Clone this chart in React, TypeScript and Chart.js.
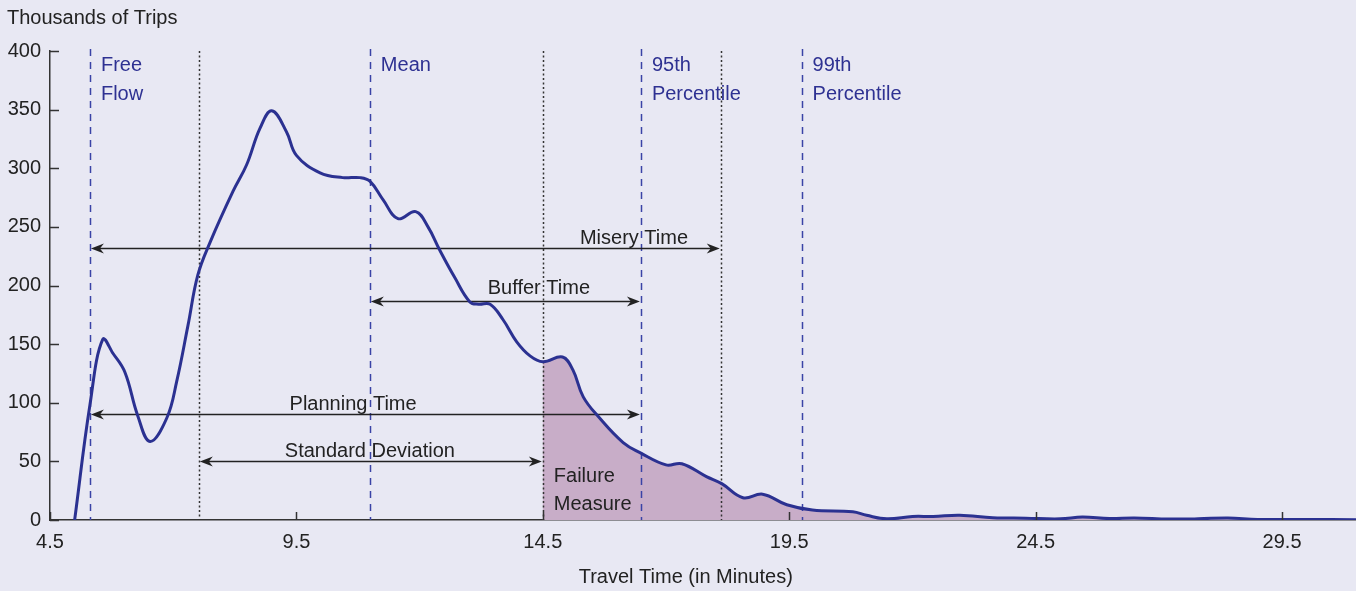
import React, { useEffect, useRef } from "react";
import { Chart, registerables } from "chart.js";

Chart.register(...registerables);

// ---- Data ----
const travelTime = [
  5.0, 5.31, 5.57, 5.78, 6.02, 6.28, 6.53, 6.87, 7.07, 7.3, 7.5, 7.75, 8.21, 8.49, 8.76, 9.0,
  9.3, 9.5, 9.98, 10.44, 10.79, 10.99, 11.26, 11.56, 11.92, 12.17, 12.41, 12.71, 13.02, 13.2,
  13.43, 13.69, 13.97, 14.24, 14.5, 14.9, 15.11, 15.32, 15.63, 16.13, 16.49, 17.0, 17.32,
  17.82, 18.13, 18.56, 18.96, 19.45, 19.97, 20.79, 21.07, 21.48, 22.0, 22.42, 22.96, 23.63,
  24.3, 25.0, 25.45, 26.0, 26.5, 27.2, 27.8, 28.4, 29.0, 30.0, 31.0,
];
const trips = [
  0, 98, 154, 142, 126, 89, 67, 87, 118, 166, 209, 237, 280, 303, 334, 349,
  331, 311, 296, 292, 292, 289, 273, 257, 263, 250, 230, 207, 186, 184,
  184, 171, 152, 140, 135, 139, 128, 105, 88, 66, 57, 47, 48,
  37, 31, 19, 22, 13, 8.5, 7, 4, 1, 3, 3, 4, 2,
  1.5, 1, 2.5, 1.2, 1.8, 0.8, 1, 1.8, 0.5, 0.5, 0.3,
];
const xTickValues = [4.5, 9.5, 14.5, 19.5, 24.5, 29.5];
const yTickValues = [0, 50, 100, 150, 200, 250, 300, 350, 400];

const markerX = [5.31, 10.99, 16.49, 19.75];
const markerLabels = [["Free", "Flow"], ["Mean"], ["95th", "Percentile"], ["99th", "Percentile"]];
const sdLineX = [7.52, 14.5, 18.11];

const arrowLabels = ["Misery Time", "Buffer Time", "Planning Time", "Standard Deviation"];
const arrowStart = [5.31, 10.99, 5.31, 7.52];
const arrowEnd = [18.11, 16.49, 16.49, 14.5];
const arrowLevel = [232, 187, 90.5, 50.5];
const arrowLabelX = [16.35, 14.42, 10.65, 10.99];

const failureStart = 14.5;
const failureLabel = ["Failure", "Measure"];

const xTitle = "Travel Time (in Minutes)";
const yTitle = "Thousands of Trips";

// ---- Styles ----
const BG = "#e8e8f3";
const CURVE = "#2b3191";
const MARKER = "#3a43a6";
const INK = "#222222";
const FILL = "#c8adc8";
const FONT = "'Liberation Sans', Arial, sans-serif";

function drawHead(ctx: CanvasRenderingContext2D, x: number, y: number, dir: number) {
  ctx.beginPath();
  ctx.moveTo(x, y);
  ctx.lineTo(x + dir * 13, y - 5);
  ctx.lineTo(x + dir * 9, y);
  ctx.lineTo(x + dir * 13, y + 5);
  ctx.closePath();
  ctx.fill();
}

const annotPlugin = {
  id: "annot",
  beforeDatasetsDraw(chart: any) {
    const { ctx, chartArea } = chart;
    const xs = chart.scales.x;
    const ys = chart.scales.y;
    const top = chartArea.top;
    const bottom = chartArea.bottom;

    // shaded failure region
    const meta = chart.getDatasetMeta(0);
    const line = meta.dataset;
    if (line) {
      if (line.updateControlPoints) line.updateControlPoints(chartArea, "x");
      const pts = meta.data;
      ctx.save();
      const fx = xs.getPixelForValue(failureStart);
      ctx.beginPath();
      ctx.rect(fx, top - 5, chartArea.right - fx + 5, bottom - top + 5);
      ctx.clip();
      ctx.beginPath();
      line.path(ctx);
      ctx.lineTo(pts[pts.length - 1].x, bottom);
      ctx.lineTo(pts[0].x, bottom);
      ctx.closePath();
      ctx.fillStyle = FILL;
      ctx.fill();
      ctx.restore();
    }

    // dotted std lines
    ctx.save();
    ctx.strokeStyle = "#333";
    ctx.lineWidth = 1.5;
    ctx.setLineDash([2, 2.5]);
    sdLineX.forEach((v) => {
      const x = Math.round(xs.getPixelForValue(v)) + 0.5;
      ctx.beginPath();
      ctx.moveTo(x, top);
      ctx.lineTo(x, bottom);
      ctx.stroke();
    });
    // dashed markers
    ctx.strokeStyle = MARKER;
    ctx.setLineDash([7, 6]);
    markerX.forEach((v) => {
      const x = Math.round(xs.getPixelForValue(v)) + 0.5;
      ctx.beginPath();
      ctx.moveTo(x, top - 2);
      ctx.lineTo(x, bottom);
      ctx.stroke();
    });
    ctx.setLineDash([]);

    // marker labels
    ctx.fillStyle = "#2e3192";
    ctx.font = `20px ${FONT}`;
    ctx.textAlign = "left";
    ctx.textBaseline = "alphabetic";
    markerX.forEach((v, i) => {
      const x = xs.getPixelForValue(v) + 11;
      markerLabels[i].forEach((t, j) => {
        ctx.fillText(t, x, top + 20 + j * 29);
      });
    });

    // arrows
    ctx.strokeStyle = INK;
    ctx.fillStyle = INK;
    ctx.lineWidth = 1.5;
    arrowLabels.forEach((lab, i) => {
      const x1 = xs.getPixelForValue(arrowStart[i]) + 1;
      const x2 = xs.getPixelForValue(arrowEnd[i]) - 1;
      const y = Math.round(ys.getPixelForValue(arrowLevel[i])) + 0.5;
      ctx.beginPath();
      ctx.moveTo(x1 + 6, y);
      ctx.lineTo(x2 - 6, y);
      ctx.stroke();
      drawHead(ctx, x1, y, 1);
      drawHead(ctx, x2, y, -1);
      ctx.textAlign = "center";
      ctx.fillText(lab, xs.getPixelForValue(arrowLabelX[i]), y - (i === 1 ? 8 : 5));
    });

    // failure measure label
    ctx.textAlign = "left";
    const fx = xs.getPixelForValue(failureStart) + 11;
    ctx.fillText(failureLabel[0], fx, bottom - 38);
    ctx.fillText(failureLabel[1], fx, bottom - 10);
    ctx.restore();
  },
  afterDraw(chart: any) {
    const { ctx, chartArea } = chart;
    const xs = chart.scales.x;
    const ys = chart.scales.y;
    ctx.save();
    ctx.strokeStyle = "#333";
    ctx.lineWidth = 1.5;
    xTickValues.forEach((v) => {
      const x = Math.round(xs.getPixelForValue(v)) + 0.5;
      ctx.beginPath();
      ctx.moveTo(x, chartArea.bottom);
      ctx.lineTo(x, chartArea.bottom - 8);
      ctx.stroke();
    });
    yTickValues.forEach((v) => {
      const y = Math.round(ys.getPixelForValue(v)) + 0.5;
      ctx.beginPath();
      ctx.moveTo(chartArea.left, y);
      ctx.lineTo(chartArea.left + 9, y);
      ctx.stroke();
    });
    ctx.fillStyle = INK;
    ctx.font = `20px ${FONT}`;
    ctx.textBaseline = "alphabetic";
    ctx.textAlign = "center";
    ctx.fillText(xTitle, xs.getPixelForValue(17.4), 583);
    ctx.textAlign = "left";
    ctx.fillText(yTitle, 7, 24);
    ctx.restore();
  },
};

export default function App() {
  const ref = useRef<HTMLCanvasElement | null>(null);
  useEffect(() => {
    if (!ref.current) return;
    const points = travelTime.map((x, i) => ({ x, y: trips[i] }));
    const chart = new Chart(ref.current, {
      type: "line",
      data: {
        datasets: [
          {
            data: points,
            borderColor: CURVE,
            borderWidth: 3,
            pointRadius: 0,
            tension: 0.4,
            fill: false,
          },
        ],
      },
      options: {
        animation: false,
        responsive: false,
        maintainAspectRatio: false,
        layout: { padding: { top: 51, right: 0, bottom: 0, left: 0 } },
        plugins: { legend: { display: false }, tooltip: { enabled: false } },
        scales: {
          x: {
            type: "linear",
            min: 4.5,
            max: 31,
            grid: { display: false, drawTicks: false },
            border: { display: true, color: "#333", width: 1.5 },
            ticks: {
              color: INK,
              font: { size: 20, family: FONT },
              padding: 10,
              maxRotation: 0,
              autoSkip: false,
              callback: (v: any) => String(v),
            },
            afterBuildTicks: (s: any) => {
              s.ticks = xTickValues.map((v) => ({ value: v }));
            },
            afterFit: (s: any) => {
              s.height = 71;
            },
          },
          y: {
            min: 0,
            max: 400,
            grid: { display: false, drawTicks: false },
            border: { display: true, color: "#333", width: 1.5 },
            ticks: {
              color: INK,
              font: { size: 20, family: FONT },
              padding: 9,
              stepSize: 50,
            },
            afterBuildTicks: (s: any) => {
              s.ticks = yTickValues.map((v) => ({ value: v }));
            },
            afterFit: (s: any) => {
              s.width = 50;
            },
          },
        },
      },
      plugins: [annotPlugin],
    } as any);
    return () => chart.destroy();
  }, []);
  return (
    <div style={{ position: "fixed", left: 0, top: 0, width: 1356, height: 591, background: BG }}>
      <canvas ref={ref} width={1356} height={591} style={{ display: "block" }} />
    </div>
  );
}
